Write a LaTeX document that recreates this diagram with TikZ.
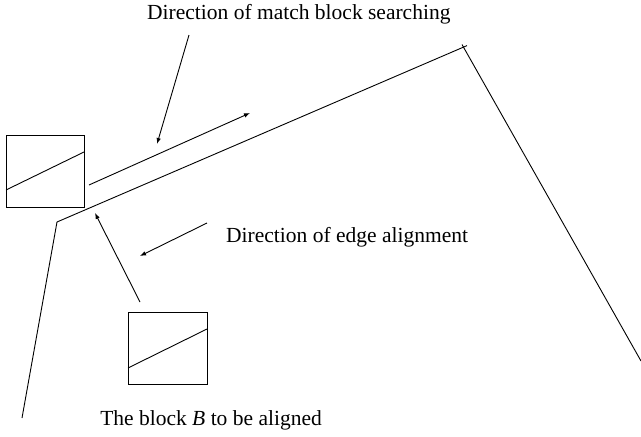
\documentclass[tikz,border=0pt]{standalone}
\usepackage{fontspec}
\setmainfont{Liberation Serif}
\usetikzlibrary{arrows.meta}
\begin{document}
\begin{tikzpicture}[x=1pt,y=-1pt,
  ln/.style={line width=0.9pt,draw=black},
  arr/.style={ln,-{Latex[length=6pt,width=4.5pt]}},
  lbl/.style={inner sep=0pt,font=\fontsize{21.5}{24}\selectfont}]
\useasboundingbox (0,0) rectangle (641,437);
% blocks
\draw[ln] (6,135) rectangle (84,207);
\draw[ln] (6,190) -- (84,152);
\draw[ln] (128,312) rectangle (207,384);
\draw[ln] (128,368) -- (207,329);
% edge
\coordinate (e0) at (22,418);
\coordinate (e1) at (57,222);
\coordinate (e2) at (467,45.6);
\coordinate (e3) at (462,44.5);
\coordinate (e4) at (641,361);
\draw[ln,line join=miter] (e0) -- (e1) -- (e2);
\draw[ln] (e3) -- (e4);
% labels
\node[lbl,anchor=base west] (t1) at (147,19.5) {Direction of match block searching};
\node[lbl,anchor=base west] (t2) at (226,242) {Direction of edge alignment};
\node[lbl,anchor=base east] (t3) at (322,425) {The block \textit{B} to be aligned};
% arrows
\coordinate (a1s) at (189,35);  \coordinate (a1e) at (157,144);
\coordinate (a2s) at (89,185);  \coordinate (a2e) at (250,113);
\coordinate (a3s) at (207,223); \coordinate (a3e) at (140,256);
\coordinate (a4s) at (140,302); \coordinate (a4e) at (95,213);
\draw[arr] (a1s) -- (a1e);
\draw[arr] (a2s) -- (a2e);
\draw[arr] (a3s) -- (a3e);
\draw[arr] (a4s) -- (a4e);
\end{tikzpicture}
\end{document}
